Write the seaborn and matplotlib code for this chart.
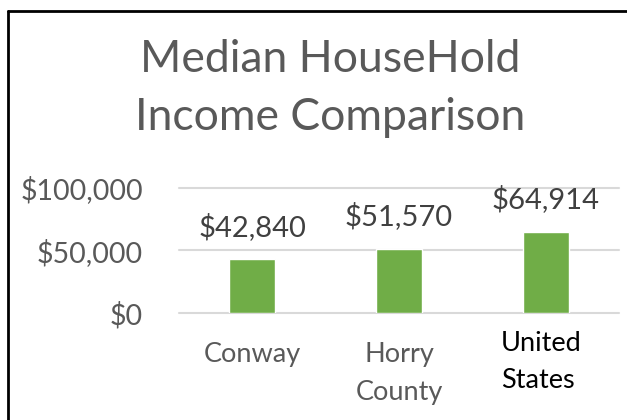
import matplotlib
matplotlib.use("Agg")
import matplotlib.pyplot as plt
import seaborn as sns
import pandas as pd
from matplotlib.lines import Line2D

# Data
categories = ["Conway", "Horry\nCounty", "United\nStates"]
incomes = [42840, 51570, 64914]
tick_values = [0, 50000, 100000]
tick_labels = ["$0", "$50,000", "$100,000"]
title_lines = ["Median HouseHold", "Income Comparison"]

df = pd.DataFrame({"area": categories, "income": incomes})

sns.set_theme(style="white")
plt.rcParams["font.family"] = ["Lato", "DejaVu Sans"]

fig = plt.figure(figsize=(6.27, 4.20), dpi=100)
ax = fig.add_axes([179 / 627, 1 - 313 / 420, 440 / 627, 125 / 420])

sns.barplot(data=df, x="area", y="income", color="#70ad47", width=0.314,
            saturation=1, ax=ax)

ax.set_ylim(0, 100000)
ax.set_xlim(-0.5, 2.5)
ax.set_yticks(tick_values)
ax.set_yticklabels(tick_labels, fontsize=20.5, color="#595959")
ax.tick_params(axis="y", length=0, pad=26)
ax.set_xlabel("")
ax.set_ylabel("")

for s in ax.spines.values():
    s.set_visible(False)
for v in tick_values:
    ax.axhline(v, color="#d9d9d9", lw=1.5, zorder=0, clip_on=False)

# Category labels
ax.set_xticks([])
label_colors = ["#595959", "#595959", "#000000"]
label_offsets = [0, 0, 8]
label_x_shift = [0, 0, -0.03]
for i, (lab, col) in enumerate(zip(categories, label_colors)):
    ax.annotate(lab, xy=(i + label_x_shift[i], 0), xycoords=("data", "axes fraction"),
                xytext=(0, -21 + label_offsets[i]), textcoords="offset points",
                ha="center", va="top", fontsize=19.5, color=col,
                linespacing=1.62, multialignment="left" if i == 2 else "center",
                annotation_clip=False)

# Value labels above the bars
for i, v in enumerate(incomes):
    ax.annotate(f"${v:,}", xy=(i, v), xytext=(0, 13.5), textcoords="offset points",
                ha="center", va="bottom", fontsize=21, color="#404040",
                annotation_clip=False)

fig.text(330 / 627, 1 - 60 / 420, title_lines[0], ha="center", va="center",
         fontsize=32, color="#595959")
fig.text(330 / 627, 1 - 118 / 420, title_lines[1], ha="center", va="center",
         fontsize=32, color="#595959")

# Outer frame (left and top edges)
fig.add_artist(Line2D([7.5 / 627, 7.5 / 627], [0, 1 - 10.5 / 420], color="black",
                      lw=2, transform=fig.transFigure))
fig.add_artist(Line2D([7.5 / 627, 1], [1 - 10.5 / 420, 1 - 10.5 / 420], color="black",
                      lw=2, transform=fig.transFigure))

fig.savefig("out.png", dpi=100, facecolor="white")
